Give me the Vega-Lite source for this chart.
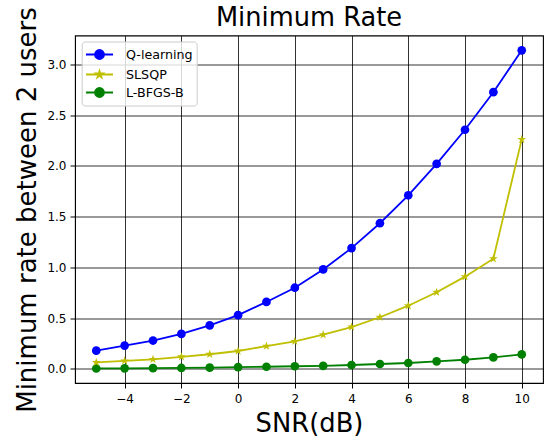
{
  "$schema": "https://vega.github.io/schema/vega-lite/v6.json",
  "width": 468,
  "height": 347.5,
  "autosize": {"type": "none"},
  "padding": {"left": 75, "top": 35.5, "right": 6, "bottom": 58},
  "background": "white",
  "title": {"text": "Minimum Rate", "fontSize": 25.7, "font": "DejaVu Sans", "fontWeight": "normal", "color": "black", "anchor": "middle", "offset": 9, "baseline": "alphabetic", "dy": 54},
  "config": {"view": {"stroke": "black", "strokeWidth": 1.1}, "font": "DejaVu Sans"},
  "data": {"values": [
    {"snr": -5, "method": "Q-learning", "rate": 0.18},
    {"snr": -4, "method": "Q-learning", "rate": 0.23},
    {"snr": -3, "method": "Q-learning", "rate": 0.28},
    {"snr": -2, "method": "Q-learning", "rate": 0.345},
    {"snr": -1, "method": "Q-learning", "rate": 0.43},
    {"snr": 0, "method": "Q-learning", "rate": 0.53},
    {"snr": 1, "method": "Q-learning", "rate": 0.66},
    {"snr": 2, "method": "Q-learning", "rate": 0.8},
    {"snr": 3, "method": "Q-learning", "rate": 0.98},
    {"snr": 4, "method": "Q-learning", "rate": 1.19},
    {"snr": 5, "method": "Q-learning", "rate": 1.435},
    {"snr": 6, "method": "Q-learning", "rate": 1.71},
    {"snr": 7, "method": "Q-learning", "rate": 2.02},
    {"snr": 8, "method": "Q-learning", "rate": 2.355},
    {"snr": 9, "method": "Q-learning", "rate": 2.725},
    {"snr": 10, "method": "Q-learning", "rate": 3.137},
    {"snr": -5, "method": "SLSQP", "rate": 0.065},
    {"snr": -4, "method": "SLSQP", "rate": 0.08},
    {"snr": -3, "method": "SLSQP", "rate": 0.095},
    {"snr": -2, "method": "SLSQP", "rate": 0.12},
    {"snr": -1, "method": "SLSQP", "rate": 0.145},
    {"snr": 0, "method": "SLSQP", "rate": 0.177},
    {"snr": 1, "method": "SLSQP", "rate": 0.225},
    {"snr": 2, "method": "SLSQP", "rate": 0.272},
    {"snr": 3, "method": "SLSQP", "rate": 0.338},
    {"snr": 4, "method": "SLSQP", "rate": 0.413},
    {"snr": 5, "method": "SLSQP", "rate": 0.509},
    {"snr": 6, "method": "SLSQP", "rate": 0.623},
    {"snr": 7, "method": "SLSQP", "rate": 0.755},
    {"snr": 8, "method": "SLSQP", "rate": 0.909},
    {"snr": 9, "method": "SLSQP", "rate": 1.086},
    {"snr": 10, "method": "SLSQP", "rate": 2.26},
    {"snr": -5, "method": "L-BFGS-B", "rate": 0.005},
    {"snr": -4, "method": "L-BFGS-B", "rate": 0.006},
    {"snr": -3, "method": "L-BFGS-B", "rate": 0.008},
    {"snr": -2, "method": "L-BFGS-B", "rate": 0.01},
    {"snr": -1, "method": "L-BFGS-B", "rate": 0.013},
    {"snr": 0, "method": "L-BFGS-B", "rate": 0.018},
    {"snr": 1, "method": "L-BFGS-B", "rate": 0.022},
    {"snr": 2, "method": "L-BFGS-B", "rate": 0.027},
    {"snr": 3, "method": "L-BFGS-B", "rate": 0.031},
    {"snr": 4, "method": "L-BFGS-B", "rate": 0.039},
    {"snr": 5, "method": "L-BFGS-B", "rate": 0.049},
    {"snr": 6, "method": "L-BFGS-B", "rate": 0.059},
    {"snr": 7, "method": "L-BFGS-B", "rate": 0.075},
    {"snr": 8, "method": "L-BFGS-B", "rate": 0.091},
    {"snr": 9, "method": "L-BFGS-B", "rate": 0.114},
    {"snr": 10, "method": "L-BFGS-B", "rate": 0.143}
  ]},
  "encoding": {
    "x": {"field": "snr", "type": "quantitative",
      "scale": {"domain": [-5.75, 10.75], "nice": false, "zero": false},
      "axis": {"values": [-4, -2, 0, 2, 4, 6, 8, 10], "format": "d", "title": "SNR(dB)",
        "titleFontSize": 25.8, "titleFontWeight": "normal", "titleColor": "black",
        "titleX": 234, "titleY": 48, "titleBaseline": "alphabetic", "titleAlign": "center",
        "labelFontSize": 12, "labelColor": "black", "labelPadding": 5, "labelFlush": false, "labelBound": false,
        "tickSize": 5, "tickColor": "black", "domainColor": "black", "gridColor": "black", "gridOpacity": 0.8}},
    "y": {"field": "rate", "type": "quantitative",
      "scale": {"domain": [-0.138, 3.283], "nice": false, "zero": false},
      "axis": {"values": [0, 0.5, 1, 1.5, 2, 2.5, 3], "format": ".1f", "title": "Minimum rate between 2 users",
        "titleFontSize": 26, "titleFontWeight": "normal", "titleColor": "black",
        "titleX": -40, "titleY": 174, "titleAngle": -90, "titleBaseline": "alphabetic", "titleAlign": "center",
        "labelFontSize": 12, "labelColor": "black", "labelPadding": 4, "labelFlush": false, "labelBound": false,
        "tickSize": 5, "tickColor": "black", "domainColor": "black", "gridColor": "black", "gridOpacity": 0.8}},
    "color": {"field": "method", "type": "nominal",
      "scale": {"domain": ["Q-learning", "SLSQP", "L-BFGS-B"], "range": ["#0000ff", "#bfbf00", "#008000"]},
      "legend": {"orient": "none", "legendX": 6.7, "legendY": 6, "title": null,
        "fillColor": "rgba(255,255,255,0.8)", "strokeColor": "#cccccc", "cornerRadius": 3, "padding": 4,
        "labelFontSize": 12.7, "labelColor": "black", "labelOffset": 22.3, "symbolSize": 256, "rowPadding": 2,
        "symbolType": "M-1.69,0H1.69M0.5625,0A0.5625,0.5625 0 1,1 -0.5625,0A0.5625,0.5625 0 1,1 0.5625,0Z",
        "symbolStrokeWidth": 1.8,
        "encoding": {"symbols": {
          "shape": {"value": {"signal": "datum.value === 'SLSQP' ? 'M-1.69,0H1.69M0,-0.4375L0.0984,-0.1352L0.416,-0.1352L0.1588,0.0516L0.2572,0.354L0,0.167L-0.2572,0.354L-0.1588,0.0516L-0.416,-0.1352L-0.0984,-0.1352Z' : 'M-1.69,0H1.69M0.5625,0A0.5625,0.5625 0 1,1 -0.5625,0A0.5625,0.5625 0 1,1 0.5625,0Z'"}},
          "fill": {"value": {"signal": "scale('color', datum.value)"}},
          "stroke": {"value": {"signal": "scale('color', datum.value)"}},
          "x": {"value": 13.8},
          "opacity": {"value": 1}
        }}}}
  },
  "layer": [
    {"mark": {"type": "line", "strokeWidth": 1.8}},
    {"transform": [{"filter": "datum.method !== 'SLSQP'"}],
     "mark": {"type": "point", "filled": true, "opacity": 1, "size": 76, "shape": "circle"}},
    {"transform": [{"filter": "datum.method === 'SLSQP'"}],
     "mark": {"type": "point", "filled": true, "opacity": 1, "size": 85, "shape": "M0,-1L0.225,-0.309L0.951,-0.309L0.363,0.118L0.588,0.809L0,0.382L-0.588,0.809L-0.363,0.118L-0.951,-0.309L-0.225,-0.309Z"}}
  ]
}
